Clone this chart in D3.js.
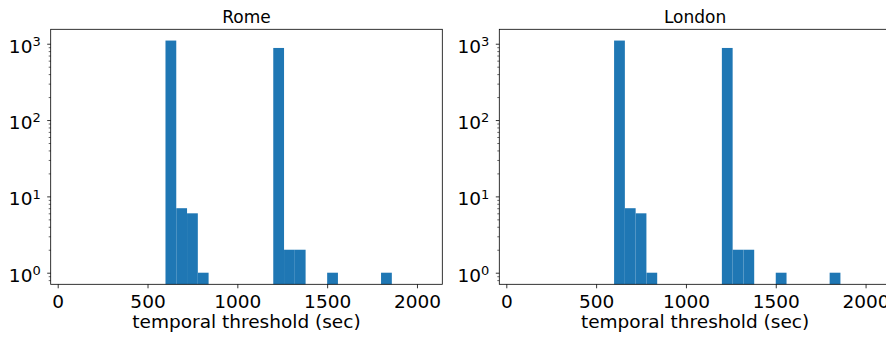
<!DOCTYPE html>
<html>
<head>
<meta charset="utf-8">
<script src="https://cdn.jsdelivr.net/npm/d3@7"></script>
<style>
  body { margin: 0; background: #fff; }
  text { font-family: "DejaVu Sans", sans-serif; fill: #000; }
</style>
</head>
<body>
<div id="chart"></div>
<script>
// histogram bins (lower edge, seconds) and counts per city
const cities = ["Rome", "London"];
const binStarts = [600, 660, 720, 780, 1200, 1260, 1320, 1500, 1800];
const binWidth = 60;
const romeCounts = [1100, 7, 6, 1, 880, 2, 2, 1, 1];
const londonCounts = [1100, 7, 6, 1, 880, 2, 2, 1, 1];
const xTicks = [0, 500, 1000, 1500, 2000];
const yTicks = [1, 10, 100, 1000];

const width = 886;
const height = 338;
const panelW = 391.6;
const panelH = 255;
const panelX = [50.7, 499.3];
const panelY = 29.3;

const svg = d3.select("#chart")
  .append("svg")
  .attr("width", width)
  .attr("height", height);

const x = d3.scaleLinear().domain([-39, 2141]).range([0, panelW]);
const y = d3.scaleLog().domain([0.705, 1545]).range([panelH, 0]);

// minor log ticks
const yMinor = [];
[0.1, 1, 10, 100].forEach(function(base) {
  for (let k = 2; k <= 9; k++) {
    const v = base * k;
    if (v >= 0.705 && v <= 1545) yMinor.push(v);
  }
});

const countsByCity = [romeCounts, londonCounts];

cities.forEach(function(city, ci) {
  const g = svg.append("g")
    .attr("transform", "translate(" + panelX[ci] + "," + panelY + ")");

  const data = binStarts.map(function(b, i) {
    return { x0: b, x1: b + binWidth, count: countsByCity[ci][i] };
  });

  g.selectAll("rect.bar")
    .data(data)
    .enter()
    .append("rect")
    .attr("class", "bar")
    .attr("x", function(d) { return x(d.x0); })
    .attr("width", function(d) { return x(d.x1) - x(d.x0); })
    .attr("y", function(d) { return y(d.count); })
    .attr("height", function(d) { return panelH - y(d.count); })
    .attr("fill", "#1f77b4");

  // x axis
  const xAxis = g.append("g")
    .attr("transform", "translate(0," + panelH + ")")
    .call(d3.axisBottom(x).tickValues(xTicks).tickSize(4).tickPadding(7).tickFormat(d3.format("d")));
  xAxis.select(".domain").remove();
  xAxis.selectAll("line").attr("stroke", "#000").attr("stroke-width", 0.8);
  xAxis.selectAll("text")
    .attr("fill", "#000")
    .style("font-size", "18.5px")
    .style("font-family", "DejaVu Sans");

  // y axis minor
  const yMin = g.append("g")
    .call(d3.axisLeft(y).tickValues(yMinor).tickSize(2).tickFormat(""));
  yMin.select(".domain").remove();
  yMin.selectAll("line").attr("stroke", "#000").attr("stroke-width", 0.6);

  // y axis major
  const yAxis = g.append("g")
    .call(d3.axisLeft(y).tickValues(yTicks).tickSize(3.5).tickFormat(""));
  yAxis.select(".domain").remove();
  yAxis.selectAll("line").attr("stroke", "#000").attr("stroke-width", 0.8);
  const lab = yAxis.selectAll(".tick")
    .append("text")
    .attr("x", -10)
    .attr("y", 8.3)
    .attr("text-anchor", "end")
    .attr("fill", "#000")
    .style("font-size", "18.5px");
  lab.append("tspan").text("10");
  lab.append("tspan")
    .attr("dy", -6.6)
    .style("font-size", "13px")
    .text(function(d) { return Math.round(Math.log10(d)); });

  // frame
  g.append("rect")
    .attr("width", panelW)
    .attr("height", panelH)
    .attr("fill", "none")
    .attr("stroke", "#000")
    .attr("stroke-width", 0.8);

  g.append("text")
    .attr("x", panelW / 2)
    .attr("y", -6.6)
    .attr("text-anchor", "middle")
    .style("font-size", "17px")
    .text(city);

  g.append("text")
    .attr("x", panelW / 2)
    .attr("y", 328 - panelY)
    .attr("text-anchor", "middle")
    .style("font-size", "18.5px")
    .text("temporal threshold (sec)");
});
</script>
</body>
</html>
